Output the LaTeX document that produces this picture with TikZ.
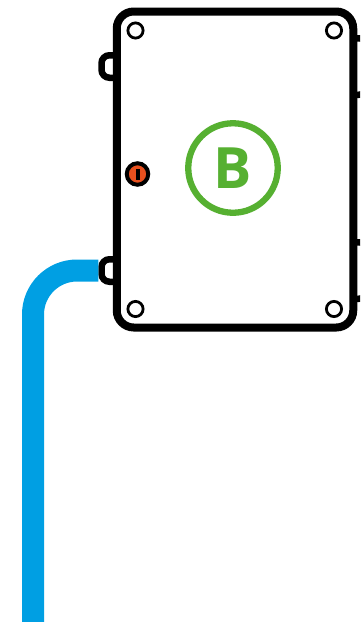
\documentclass[tikz,border=0pt]{standalone}
\usepackage{fontspec}
\setmainfont{Open Sans}
\usepackage{tikz}
\definecolor{mygreen}{HTML}{56B031}
\definecolor{myblue}{HTML}{009FE3}
\definecolor{myred}{HTML}{E8501E}
\tikzset{
  tab/.style={draw,line width=6.5pt,rounded corners=8pt,inner sep=0pt,minimum width=22pt,minimum height=22.5pt},
  screw/.style={draw,circle,line width=2.8pt,fill=white,inner sep=0pt,minimum size=15.2pt},
}

\begin{document}
\begin{tikzpicture}[x=1pt,y=-1pt]
  \useasboundingbox (0,0) rectangle (360,622);
  \clip (0,0) rectangle (360,622);
  % tabs behind the box
  \node[tab] (tabtl) at (112.5,66.5) {};
  \node[tab] (tabbl) at (112.5,270.5) {};
  \node[tab,minimum width=30pt,minimum height=56.5pt] (tabtr) at (352,66.5) {};
  \node[tab,minimum width=30pt,minimum height=56.5pt] (tabbr) at (352,270.5) {};
  \coordinate (pipeend) at (33,622);
  \draw[myblue,line width=22pt,rounded corners=44pt] (tabbl.west) -| (pipeend);
  \node[draw,line width=8pt,fill=white,rounded corners=17pt,inner sep=0pt,minimum width=236.5pt,minimum height=316pt] (box) at (235,169.5) {};
  \foreach \x/\y/\n in {135.5/30.5/a,334/30.5/b,135.5/309/c,334/309/d}
    \node[screw] (screw\n) at (\x,\y) {};
  \node[draw,circle,line width=4pt,fill=myred,inner sep=0pt,minimum size=21.5pt] (valve) at (137.5,174) {};
  \node[fill=black,inner sep=0pt,minimum width=4pt,minimum height=11pt] (valvebar) at (valve) {};
  \node[draw=mygreen,circle,line width=6.3pt,inner sep=0pt,minimum size=89.5pt,text=mygreen,font=\fontsize{57}{57}\selectfont\bfseries] (badge) at (233,168) {B};
\end{tikzpicture}
\end{document}
